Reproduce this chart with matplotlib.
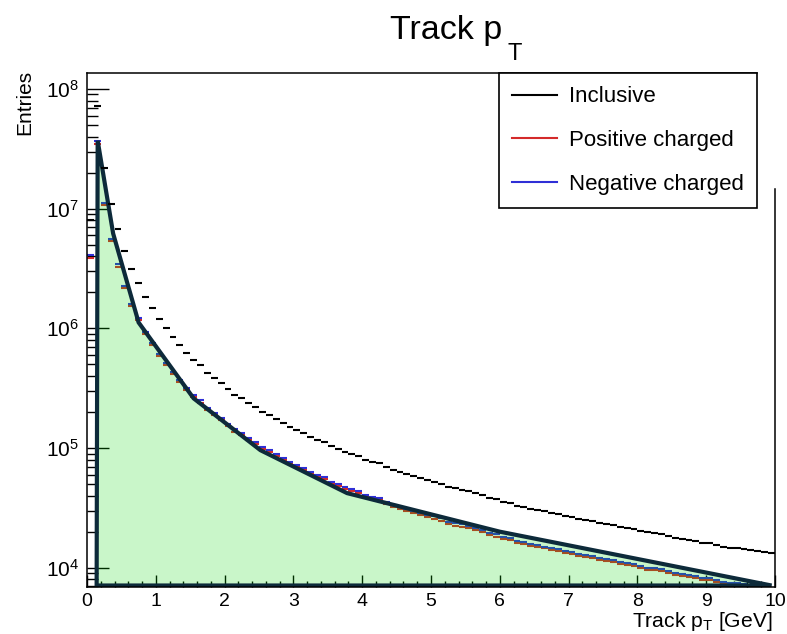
import numpy as np
import matplotlib
matplotlib.use("Agg")
import matplotlib.pyplot as plt
from matplotlib.ticker import LogLocator, MultipleLocator, NullFormatter
from matplotlib.lines import Line2D

plt.rcParams['font.family'] = 'Liberation Sans'
plt.rcParams['mathtext.fontset'] = 'custom'
plt.rcParams['mathtext.rm'] = 'Liberation Sans'
plt.rcParams['mathtext.it'] = 'Liberation Sans:italic'

# 100 bins of 0.1 GeV from 0 to 10 GeV
bin_lo = np.linspace(0.0, 9.9, 100)

inclusive = [
    8.0e6, 7.2e7, 2.2e7, 1.1e7, 6.7e6, 4.45e6, 3.15e6, 2.4e6, 1.82e6, 1.48e6,
    1.2e6, 1.0e6, 8.5e5, 7.2e5, 6.2e5, 5.4e5, 4.9e5, 4.25e5, 3.85e5, 3.47e5,
    3.1e5, 2.8e5, 2.63e5, 2.38e5, 2.2e5, 2.0e5, 1.89e5, 1.74e5, 1.61e5, 1.51e5,
    1.41e5, 1.33e5, 1.23e5, 1.17e5, 1.12e5, 1.03e5, 9.75e4, 9.3e4, 8.9e4, 8.5e4,
    7.94e4, 7.7e4, 7.45e4, 6.9e4, 6.55e4, 6.3e4, 6.05e4, 5.85e4, 5.6e4, 5.4e4,
    5.25e4, 5.05e4, 4.75e4, 4.6e4, 4.5e4, 4.35e4, 4.2e4, 4.05e4, 3.85e4, 3.72e4,
    3.55e4, 3.45e4, 3.3e4, 3.2e4, 3.1e4, 3.05e4, 2.95e4, 2.88e4, 2.8e4, 2.72e4,
    2.65e4, 2.55e4, 2.5e4, 2.45e4, 2.38e4, 2.32e4, 2.27e4, 2.2e4, 2.14e4, 2.1e4,
    2.02e4, 1.97e4, 1.94e4, 1.9e4, 1.85e4, 1.78e4, 1.74e4, 1.7e4, 1.66e4, 1.62e4,
    1.6e4, 1.56e4, 1.5e4, 1.47e4, 1.45e4, 1.43e4, 1.4e4, 1.37e4, 1.36e4, 1.33e4,
]

positive = [
    3.9e6, 3.5e7, 1.08e7, 5.4e6, 3.28e6, 2.18e6, 1.54e6, 1.18e6, 8.9e5, 7.25e5,
    5.9e5, 4.9e5, 4.17e5, 3.53e5, 3.04e5, 2.65e5, 2.4e5, 2.08e5, 1.89e5, 1.7e5,
    1.52e5, 1.37e5, 1.29e5, 1.17e5, 1.08e5, 9.8e4, 9.26e4, 8.53e4, 7.89e4, 7.4e4,
    6.91e4, 6.52e4, 6.03e4, 5.73e4, 5.49e4, 5.05e4, 4.78e4, 4.56e4, 4.36e4, 4.17e4,
    3.89e4, 3.77e4, 3.65e4, 3.38e4, 3.21e4, 3.09e4, 2.96e4, 2.87e4, 2.74e4, 2.65e4,
    2.57e4, 2.47e4, 2.33e4, 2.25e4, 2.2e4, 2.13e4, 2.06e4, 1.98e4, 1.89e4, 1.82e4,
    1.74e4, 1.69e4, 1.62e4, 1.57e4, 1.52e4, 1.49e4, 1.45e4, 1.41e4, 1.37e4, 1.33e4,
    1.3e4, 1.25e4, 1.23e4, 1.2e4, 1.17e4, 1.14e4, 1.11e4, 1.08e4, 1.05e4, 1.03e4,
    9.9e3, 9.65e3, 9.5e3, 9.3e3, 9.07e3, 8.72e3, 8.53e3, 8.33e3, 8.13e3, 7.94e3,
    7.84e3, 7.64e3, 7.35e3, 7.2e3, 7.1e3, 7.0e3, 6.86e3, 6.71e3, 6.66e3, 6.52e3,
]

negative = [
    4.1e6, 3.7e7, 1.12e7, 5.6e6, 3.42e6, 2.27e6, 1.61e6, 1.22e6, 9.3e5, 7.55e5,
    6.1e5, 5.1e5, 4.33e5, 3.67e5, 3.16e5, 2.75e5, 2.5e5, 2.17e5, 1.96e5, 1.77e5,
    1.58e5, 1.43e5, 1.34e5, 1.21e5, 1.12e5, 1.02e5, 9.64e4, 8.87e4, 8.21e4, 7.7e4,
    7.19e4, 6.78e4, 6.27e4, 5.97e4, 5.71e4, 5.25e4, 4.97e4, 4.74e4, 4.54e4, 4.34e4,
    4.05e4, 3.93e4, 3.8e4, 3.52e4, 3.34e4, 3.21e4, 3.09e4, 2.98e4, 2.86e4, 2.75e4,
    2.68e4, 2.58e4, 2.42e4, 2.35e4, 2.3e4, 2.22e4, 2.14e4, 2.07e4, 1.96e4, 1.9e4,
    1.81e4, 1.76e4, 1.68e4, 1.63e4, 1.58e4, 1.56e4, 1.5e4, 1.47e4, 1.43e4, 1.39e4,
    1.35e4, 1.3e4, 1.27e4, 1.25e4, 1.21e4, 1.18e4, 1.16e4, 1.12e4, 1.09e4, 1.07e4,
    1.03e4, 1.0e4, 9.9e3, 9.7e3, 9.43e3, 9.08e3, 8.87e3, 8.67e3, 8.47e3, 8.26e3,
    8.16e3, 7.96e3, 7.65e3, 7.5e3, 7.4e3, 7.3e3, 7.14e3, 6.99e3, 6.94e3, 6.78e3,
]

# outline of the filled green shape
shape_x = [0.14, 0.155, 0.38, 0.75, 1.55, 2.52, 3.78, 6.0, 9.95]
shape_y = [7.1e3, 3.7e7, 6.2e6, 1.12e6, 2.6e5, 9.6e4, 4.2e4, 2.0e4, 7.1e3]

labels = ["Inclusive", "Positive charged", "Negative charged"]

W, H = 787, 634
fig = plt.figure(figsize=(W / 100, H / 100), dpi=100)
ax = fig.add_axes([87 / W, 1 - 587 / H, (775 - 87) / W, (587 - 73) / H])
ax.set_yscale('log')
ax.set_xlim(0, 10)
ax.set_ylim(6.9e3, 1.36e8)
ax.set_axisbelow(True)

centers = bin_lo + 0.05
pos = np.array(positive)
neg = np.array(negative)
inc = np.array(inclusive)

ax.errorbar(centers, pos, xerr=0.05, yerr=np.sqrt(pos), fmt='none',
            ecolor='#d42a2a', elinewidth=1.5, zorder=1.2)
ax.errorbar(centers, neg, xerr=0.05, yerr=np.sqrt(neg), fmt='none',
            ecolor='#2f2fd6', elinewidth=1.5, zorder=1.3)
ax.fill(shape_x, shape_y, facecolor=(0.0, 0.85, 0.0, 0.21),
        edgecolor='#0d2a3a', linewidth=3, zorder=2)
ax.errorbar(centers, inc, xerr=0.05, yerr=np.sqrt(inc), fmt='none',
            ecolor='black', elinewidth=1.5, zorder=4)

# ROOT-like axes
ax.xaxis.set_major_locator(MultipleLocator(1))
ax.xaxis.set_minor_locator(MultipleLocator(0.2))
ax.yaxis.set_major_locator(LogLocator(base=10, numticks=12))
ax.yaxis.set_minor_locator(LogLocator(base=10, subs=np.arange(2, 10), numticks=30))
ax.yaxis.set_minor_formatter(NullFormatter())
ax.tick_params(which='both', direction='in', top=False, right=False, color='black')
ax.tick_params(axis='x', which='major', length=8.6, width=1, pad=4, labelsize=14)
ax.tick_params(axis='x', which='minor', length=4.3, width=1)
ax.tick_params(axis='y', which='major', length=16, width=1, pad=6, labelsize=15)
ax.tick_params(axis='y', which='minor', length=8, width=1)
for s in ax.spines.values():
    s.set_linewidth(1.1)
ax.spines['right'].set_bounds(6.9e3, 1.45e7)
ax.spines['top'].set_bounds(0, 9.74)

# title with low subscript, ROOT style
fig.text(502 / W, 1 - 39 / H, "Track p", fontsize=24.5, ha='right', va='baseline')
fig.text(508 / W, 1 - 60 / H, "T", fontsize=17, ha='left', va='baseline')

fig.text(773 / W, 1 - 627 / H, r"Track p$_{\rm T}$ [GeV]", fontsize=15.2,
         ha='right', va='baseline')
fig.text(25 / W, 1 - 70 / H, "Entries", fontsize=15, rotation=90,
         ha='center', va='top')

handles = [Line2D([], [], color='black', lw=1.5),
           Line2D([], [], color='#d42a2a', lw=1.5),
           Line2D([], [], color='#2f2fd6', lw=1.5)]
leg = ax.legend(handles, labels, loc='upper right',
                bbox_to_anchor=(757 / W, 1 - 73 / H), bbox_transform=fig.transFigure,
                fontsize=16, frameon=True, fancybox=False, edgecolor='black',
                framealpha=1, borderaxespad=0, borderpad=0.6, labelspacing=1.03,
                handlelength=2.0, handletextpad=0.55)
leg.get_frame().set_linewidth(1.2)
leg.set_zorder(10)

fig.savefig("out.png", dpi=100)
